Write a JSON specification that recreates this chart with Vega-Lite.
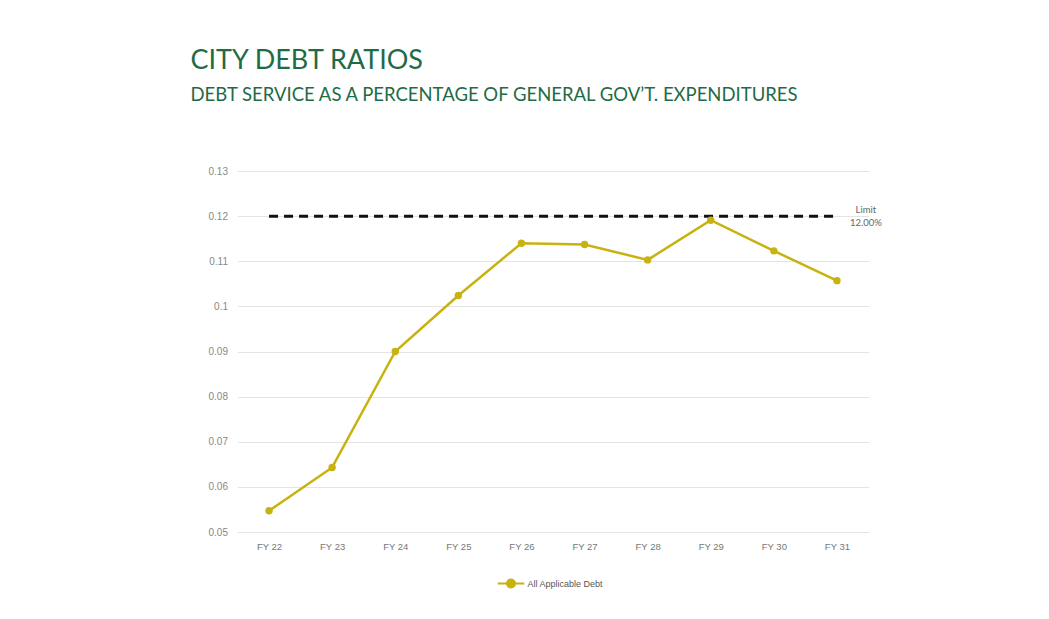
{
  "$schema": "https://vega.github.io/schema/vega-lite/v6.json",
  "width": 631,
  "height": 361,
  "autosize": "none",
  "padding": {"left": 237.5, "top": 171, "right": 180.5, "bottom": 87},
  "background": "white",
  "title": {
    "text": "CITY DEBT RATIOS",
    "subtitle": "DEBT SERVICE AS A PERCENTAGE OF GENERAL GOV’T. EXPENDITURES",
    "anchor": "start",
    "frame": "group",
    "dx": -47,
    "offset": 61,
    "font": "Lato",
    "fontSize": 27,
    "fontWeight": "normal",
    "color": "#1f6b46",
    "subtitleFont": "Lato",
    "subtitleFontSize": 18.5,
    "subtitleColor": "#1f6b46",
    "subtitlePadding": 11
  },
  "datasets": {
    "debt": [
      {"year": "FY 22", "ratio": 0.0547, "series": "All Applicable Debt"},
      {"year": "FY 23", "ratio": 0.0643, "series": "All Applicable Debt"},
      {"year": "FY 24", "ratio": 0.0900, "series": "All Applicable Debt"},
      {"year": "FY 25", "ratio": 0.1024, "series": "All Applicable Debt"},
      {"year": "FY 26", "ratio": 0.1140, "series": "All Applicable Debt"},
      {"year": "FY 27", "ratio": 0.1137, "series": "All Applicable Debt"},
      {"year": "FY 28", "ratio": 0.1103, "series": "All Applicable Debt"},
      {"year": "FY 29", "ratio": 0.1191, "series": "All Applicable Debt"},
      {"year": "FY 30", "ratio": 0.1123, "series": "All Applicable Debt"},
      {"year": "FY 31", "ratio": 0.1057, "series": "All Applicable Debt"}
    ],
    "limit": [
      {"start": "FY 22", "end": "FY 31", "limit": 0.12, "label": ["Limit", "12.00%"]}
    ]
  },
  "encoding": {
    "y": {
      "type": "quantitative",
      "scale": {"domain": [0.05, 0.13], "nice": false, "zero": false},
      "axis": {"values": [0.05, 0.06, 0.07, 0.08, 0.09, 0.1, 0.11, 0.12, 0.13], "format": ".2~f"}
    }
  },
  "layer": [
    {
      "data": {"name": "limit"},
      "mark": {"type": "rule", "color": "#111111", "strokeWidth": 3, "strokeDash": [9, 6]},
      "encoding": {
        "x": {"field": "start", "type": "ordinal", "scale": {"type": "point", "padding": 0.5}},
        "x2": {"field": "end"},
        "y": {"field": "limit", "type": "quantitative"}
      }
    },
    {
      "data": {"name": "limit"},
      "mark": {"type": "text", "align": "center", "baseline": "middle", "dx": 29, "dy": -6, "fontSize": 9.5, "font": "Lato", "color": "#666666", "lineHeight": 13},
      "encoding": {
        "x": {"field": "end", "type": "ordinal"},
        "y": {"field": "limit", "type": "quantitative"},
        "text": {"field": "label"}
      }
    },
    {
      "data": {"name": "debt"},
      "mark": {"type": "line", "strokeWidth": 2.5, "point": {"size": 55, "filled": true}},
      "encoding": {
        "x": {"field": "year", "type": "ordinal"},
        "y": {"field": "ratio", "type": "quantitative"},
        "color": {
          "field": "series",
          "type": "nominal",
          "scale": {"range": ["#c8b210"]},
          "legend": {
            "title": null,
            "orient": "none",
            "legendX": 259,
            "legendY": 398,
            "direction": "horizontal",
            "symbolType": "M-1,0L1,0M-0.3,0A0.3,0.3 0 1,1 0.3,0A0.3,0.3 0 1,1 -0.3,0Z",
            "symbolSize": 700,
            "symbolStrokeWidth": 2,
            "symbolFillColor": "#c8b210",
            "labelFont": "Liberation Sans",
            "labelFontSize": 9,
            "labelColor": "#555555",
            "labelOffset": 2
          }
        }
      }
    }
  ],
  "config": {
    "view": {"stroke": null},
    "axisX": {
      "title": null,
      "labelAngle": 0,
      "domain": false,
      "ticks": false,
      "grid": false,
      "labelPadding": 9,
      "labelFont": "Liberation Sans",
      "labelFontSize": 9.5,
      "labelColor": "#777777"
    },
    "axisY": {
      "title": null,
      "domain": false,
      "ticks": false,
      "gridColor": "#e4e4e4",
      "gridWidth": 1.2,
      "labelPadding": 10,
      "labelFont": "Liberation Sans",
      "labelFontSize": 10,
      "labelColor": "#888888"
    }
  }
}
